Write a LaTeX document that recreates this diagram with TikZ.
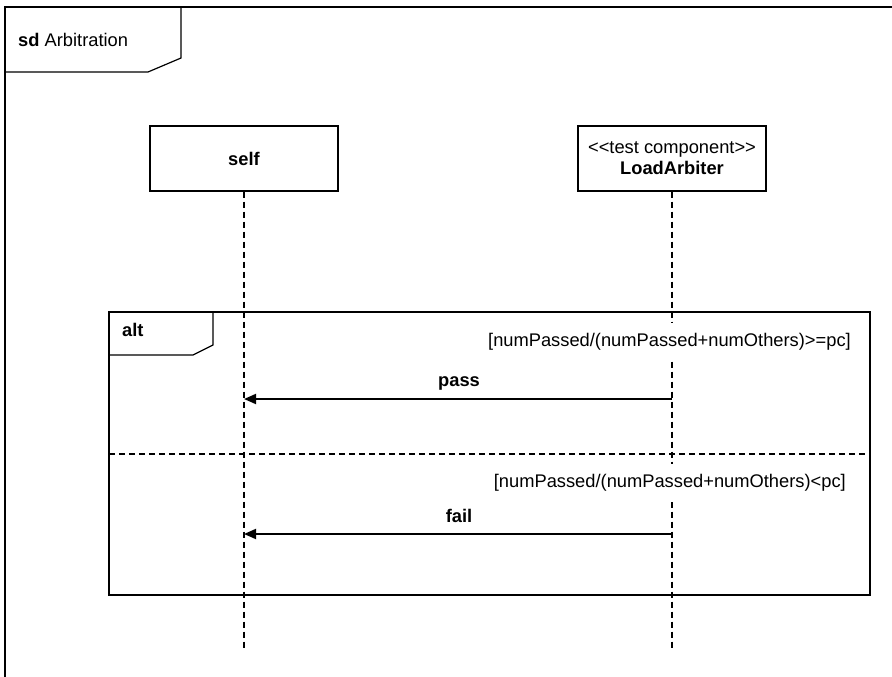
\documentclass[tikz,border=0pt]{standalone}
\usepackage{fontspec}
\setmainfont{Liberation Sans}
\usetikzlibrary{arrows.meta}
\begin{document}
\begin{tikzpicture}[x=1pt,y=-1pt,
  font=\fontsize{18.3}{22}\selectfont,
  frameline/.style={line width=1.2pt},
  lifebox/.style={draw, fill=white, line width=1.2pt, minimum width=188pt, minimum height=65pt, inner sep=0pt, align=center},
  lifeline/.style={line width=1.5pt, dash pattern=on 6pt off 4pt},
  sepline/.style={line width=1.4pt, dash pattern=on 6pt off 4pt},
  msg/.style={line width=1.8pt, -{Triangle[length=12pt,width=10pt]}},
  guard/.style={fill=white, inner sep=0pt, minimum height=38pt, anchor=east},
  lbl/.style={inner sep=0pt, anchor=west}
]
\useasboundingbox (0,0) rectangle (892,677);
% outer frame
\draw[frameline] (5,680) -- (5,7) -- (892,7);
\draw[frameline] (5,72) -- (148,72) -- (181,58) -- (181,7);
\node[lbl] (sdlabel) at (18,40) {\textbf{sd} Arbitration};

% alt fragment
\draw[frameline] (109,312) rectangle (870,595);
\draw[frameline] (109,355) -- (193,355) -- (213,345) -- (213,312);
\node[lbl] (altlabel) at (122,330) {\textbf{alt}};
\coordinate (sepL) at (109,454);
\coordinate (sepR) at (870,454);
\draw[sepline] (sepL) -- (sepR);

% lifelines
\node[lifebox] (self) at (244,158.5) {\textbf{self}};
\node[lifebox] (arb) at (672,158.5) {<{}<test component>{}>\\[-1pt]\textbf{LoadArbiter}};
\coordinate (selfend) at (244,650);
\coordinate (arbend) at (672,650);
\draw[lifeline] (self.south) -- (selfend);
\draw[lifeline] (arb.south) -- (arbend);

% guards
\node[guard] (g1) at (851,342) {[numPassed/(numPassed+numOthers)>=pc]};
\node[guard] (g2) at (846,483) {[numPassed/(numPassed+numOthers)<pc]};

% messages
\coordinate (passFrom) at (672,399);
\coordinate (passTo) at (244,399);
\coordinate (failFrom) at (672,534);
\coordinate (failTo) at (244,534);
\draw[msg] (passFrom) -- (passTo);
\draw[msg] (failFrom) -- (failTo);
\node[inner sep=0pt] (passlbl) at (459,383) {\textbf{pass}};
\node[inner sep=0pt] (faillbl) at (459,516) {\textbf{fail}};
\end{tikzpicture}
\end{document}
